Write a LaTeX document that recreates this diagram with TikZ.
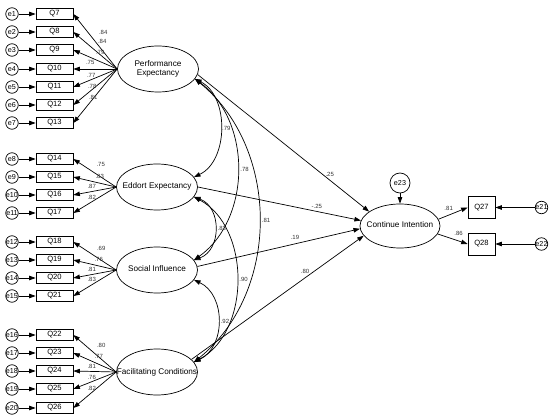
\documentclass[tikz,border=0pt]{standalone}
\usepackage{fontspec}
\setmainfont{Liberation Sans}
\usetikzlibrary{arrows.meta,shapes.geometric}
\newcommand{\lv}[1]{\makebox[0pt]{\begin{tabular}{@{}c@{}}#1\end{tabular}}}
\tikzset{
  obs/.style={draw,minimum width=37pt,minimum height=11pt,inner sep=0pt,font=\fontsize{7.6}{8}\selectfont},
  err/.style={circle,draw,minimum size=12.5pt,inner sep=0pt,font=\fontsize{7.2}{8}\selectfont},
  lat/.style={ellipse,draw,minimum width=81pt,minimum height=46pt,inner sep=0pt},
  lbl/.style={font=\fontsize{6}{6.5}\selectfont,inner sep=0.5pt,text=black!80},
  path/.style={-{Triangle[length=6.5pt,width=4.5pt]}},
  cov/.style={{Triangle[length=6.5pt,width=4.5pt]}-{Triangle[length=6.5pt,width=4.5pt]}},
}
\begin{document}
\begin{tikzpicture}[x=1pt,y=1pt,line width=0.7pt,font=\fontsize{8.2}{10}\selectfont]
  \useasboundingbox (0,0) rectangle (550,-420);

  % Performance Expectancy and its indicators
  \node[lat] (pe) at (158,-69) {\lv{Performance\\Expectancy}};
  \foreach \i/\q/\y/\v/\dx/\dy in {1/7/14/.84/8/9.5, 2/8/32/.84/7/9.5, 3/9/50/.79/5/7.5,
      4/10/69/.75/-5/6.5, 5/11/87/.77/-4/3, 6/12/105/.78/-3/1, 7/13/123/.81/-2/-1} {
    \node[err] (e\i) at (12,-\y) {\makebox[0pt]{e\i}};
    \node[obs] (q\q) at (54.5,-\y) {Q\q};
    \draw[path] (e\i) -- (q\q);
    \draw[path] (pe.west) -- (q\q.east) node[lbl,midway,shift={(\dx,\dy)}] {\v};
  }

  % Eddort Expectancy
  \node[lat] (ee) at (157,-187) {\lv{Eddort Expectancy}};
  \foreach \i/\q/\y/\v/\dx/\dy in {8/14/159/.75/6/8.5, 9/15/177/.83/5/5.5,
      10/16/195/.87/-3/4.5, 11/17/213/.82/-3/3} {
    \node[err] (e\i) at (12,-\y) {\makebox[0pt]{e\i}};
    \node[obs] (q\q) at (54.5,-\y) {Q\q};
    \draw[path] (e\i) -- (q\q);
    \draw[path] (ee.west) -- (q\q.east) node[lbl,midway,shift={(\dx,\dy)}] {\v};
  }

  % Social Influence
  \node[lat] (si) at (157,-270) {\lv{Social Influence}};
  \foreach \i/\q/\y/\v/\dx/\dy in {12/18/242/.69/6.5/7.7, 13/19/260/.76/4/6,
      14/20/278/.81/-3/5, 15/21/296/.83/-3/3.7} {
    \node[err] (e\i) at (12,-\y) {\makebox[0pt]{e\i}};
    \node[obs] (q\q) at (54.5,-\y) {Q\q};
    \draw[path] (e\i) -- (q\q);
    \draw[path] (si.west) -- (q\q.east) node[lbl,midway,shift={(\dx,\dy)}] {\v};
  }

  % Facilitating Conditions
  \node[lat] (fc) at (157,-372) {\lv{Facilitating Conditions}};
  \foreach \i/\q/\y/\v/\dx/\dy in {16/22/335/.80/6.5/8, 17/23/353/.77/4/6.5,
      18/24/371/.81/-3/5, 19/25/389/.76/-3/3, 20/26/408/.82/-3/2} {
    \node[err] (e\i) at (12,-\y) {\makebox[0pt]{e\i}};
    \node[obs] (q\q) at (54.5,-\y) {Q\q};
    \draw[path] (e\i) -- (q\q);
    \draw[path] (fc.west) -- (q\q.east) node[lbl,midway,shift={(\dx,\dy)}] {\v};
  }

  % Correlations between the exogenous factors
  \draw[cov] (pe.-15) to[bend left=64] node[lbl,midway,right=1pt] {.79} (ee.15);
  \draw[cov] (pe.-15) to[bend left=54] node[lbl,midway,right=2pt] {.78} (si.15);
  \draw[cov] (pe.-15) to[bend left=51] node[lbl,midway,right=2pt] {.81} (fc.15);
  \draw[cov] (ee.-15) to[bend left=70,looseness=1.2] node[lbl,midway,right=2pt] {.83} (si.15);
  \draw[cov] (ee.-15) to[bend left=62] node[lbl,midway,right=2pt] {.90} (fc.15);
  \draw[cov] (si.-15) to[bend left=65,looseness=1.1] node[lbl,midway,right=2pt] {.92} (fc.15);

  % Continue Intention
  \node[lat,minimum width=80pt,minimum height=44pt] (ci) at (400,-226) {\lv{Continue Intention}};
  \node[err,minimum size=20pt] (e23) at (400,-183) {e23};
  \node[obs,minimum width=27pt,minimum height=22pt] (q27) at (481.5,-207.5) {Q27};
  \node[obs,minimum width=27pt,minimum height=22pt] (q28) at (481.5,-244) {Q28};
  \node[err] (e21) at (541.5,-207.5) {\makebox[0pt]{e21}};
  \node[err] (e22) at (541.5,-244) {\makebox[0pt]{e22}};
  \draw[path] (e23) -- (ci);
  \draw[path] (e21) -- (q27);
  \draw[path] (e22) -- (q28);
  \draw[path] (ci.10) -- (q27.west) node[lbl,pos=.35,above=4pt] {.81};
  \draw[path] (ci.-12) -- (q28.west) node[lbl,pos=.7,above=5pt] {.86};

  % Structural paths
  \draw[path] (pe.-8) -- (ci.155) node[lbl,pos=.77,above=3pt] {.25};
  \draw[path] (ee.east) -- (ci.172) node[lbl,pos=.73,above=2pt] {-.25};
  \draw[path] (si.5) -- (ci.184) node[lbl,pos=.6,above=3pt] {.19};
  \draw[path] (fc.20) -- (ci.195) node[lbl,pos=.66,above=3pt] {.80};
\end{tikzpicture}
\end{document}
